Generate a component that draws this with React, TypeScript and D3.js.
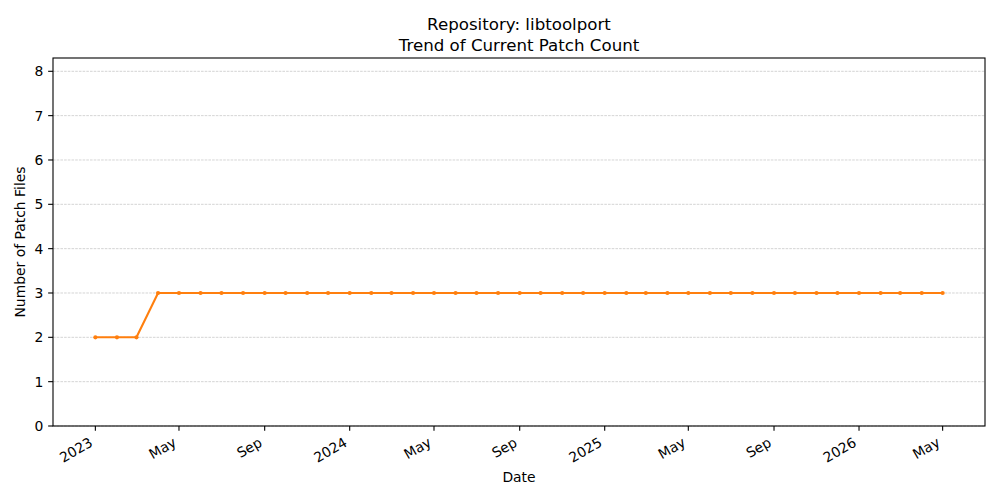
import React from "react";
import * as d3 from "d3";

const months: string[] = [
  "2023-01-01", "2023-02-01", "2023-03-01", "2023-04-01", "2023-05-01", "2023-06-01",
  "2023-07-01", "2023-08-01", "2023-09-01", "2023-10-01", "2023-11-01", "2023-12-01",
  "2024-01-01", "2024-02-01", "2024-03-01", "2024-04-01", "2024-05-01", "2024-06-01",
  "2024-07-01", "2024-08-01", "2024-09-01", "2024-10-01", "2024-11-01", "2024-12-01",
  "2025-01-01", "2025-02-01", "2025-03-01", "2025-04-01", "2025-05-01", "2025-06-01",
  "2025-07-01", "2025-08-01", "2025-09-01", "2025-10-01", "2025-11-01", "2025-12-01",
  "2026-01-01", "2026-02-01", "2026-03-01", "2026-04-01", "2026-05-01",
];

const patchCounts: number[] = [
  2, 2, 2, 3, 3, 3,
  3, 3, 3, 3, 3, 3,
  3, 3, 3, 3, 3, 3,
  3, 3, 3, 3, 3, 3,
  3, 3, 3, 3, 3, 3,
  3, 3, 3, 3, 3, 3,
  3, 3, 3, 3, 3,
];

const xTickDates: string[] = [
  "2023-01-01", "2023-05-01", "2023-09-01",
  "2024-01-01", "2024-05-01", "2024-09-01",
  "2025-01-01", "2025-05-01", "2025-09-01",
  "2026-01-01", "2026-05-01",
];
const xTickLabels: string[] = [
  "2023", "May", "Sep", "2024", "May", "Sep", "2025", "May", "Sep", "2026", "May",
];
const yTicks: number[] = [0, 1, 2, 3, 4, 5, 6, 7, 8];

const titleLines = ["Repository: libtoolport", "Trend of Current Patch Count"];
const xLabel = "Date";
const yLabel = "Number of Patch Files";

const W = 1000;
const H = 500;
const left = 53;
const right = 985;
const top = 58;
const bottom = 426;
const FONT = "DejaVu Sans, sans-serif";
const COLOR = "#ff7f0e";

export default function App() {
  const parse = d3.timeParse("%Y-%m-%d");
  const data = months.map((m, i) => ({ d: parse(m) as Date, v: patchCounts[i] }));
  const [d0, d1] = d3.extent(data, (p) => p.d) as [Date, Date];
  const span = d1.getTime() - d0.getTime();
  const x = d3
    .scaleTime()
    .domain([new Date(d0.getTime() - span * 0.05), new Date(d1.getTime() + span * 0.05)])
    .range([left, right]);
  const y = d3.scaleLinear().domain([0, 8.3]).range([bottom, top]);

  const line = d3
    .line<{ d: Date; v: number }>()
    .x((p) => x(p.d))
    .y((p) => y(p.v));

  const tickLen = 4.86;
  const cx = (left + right) / 2;

  return (
    <svg
      width={W}
      height={H}
      style={{ position: "absolute", left: 0, top: 0, background: "#fff" }}
      fontFamily={FONT}
    >
      <rect x={0} y={0} width={W} height={H} fill="#fff" />
      {/* grid */}
      {yTicks.map((t) => (
        <line
          key={"g" + t}
          x1={left}
          x2={right}
          y1={y(t)}
          y2={y(t)}
          stroke="#b0b0b0"
          strokeWidth={0.55}
          strokeDasharray="2.6,1.1"
        />
      ))}
      {/* line */}
      <path d={line(data) || ""} fill="none" stroke={COLOR} strokeWidth={2.08} strokeLinejoin="round" />
      {data.map((p, i) => (
        <circle key={"m" + i} cx={x(p.d)} cy={y(p.v)} r={2.1} fill={COLOR} />
      ))}
      {/* spines */}
      <rect
        x={left}
        y={top}
        width={right - left}
        height={bottom - top}
        fill="none"
        stroke="#000"
        strokeWidth={1.1}
      />
      {/* y ticks */}
      {yTicks.map((t) => (
        <g key={"yt" + t}>
          <line x1={left - tickLen} x2={left} y1={y(t)} y2={y(t)} stroke="#000" strokeWidth={1.1} />
          <text
            x={left - tickLen - 4.86}
            y={y(t)}
            textAnchor="end"
            dominantBaseline="central"
            fontSize={13.9}
            fill="#000"
          >
            {t}
          </text>
        </g>
      ))}
      {/* x ticks */}
      {xTickDates.map((s, i) => {
        const xp = x(parse(s) as Date);
        return (
          <g key={"xt" + s}>
            <line x1={xp} x2={xp} y1={bottom} y2={bottom + tickLen} stroke="#000" strokeWidth={1.1} />
            <text
              transform={`translate(${xp - 1.6},${bottom + 2 * tickLen + 9.5}) rotate(-30)`}
              textAnchor="end"
              fontSize={13.9}
              fill="#000"
            >
              {xTickLabels[i]}
            </text>
          </g>
        );
      })}
      {/* labels */}
      <text x={cx} y={482} textAnchor="middle" fontSize={13.9} fill="#000">
        {xLabel}
      </text>
      <text
        transform={`translate(25,${(top + bottom) / 2}) rotate(-90)`}
        textAnchor="middle"
        fontSize={13.9}
        fill="#000"
      >
        {yLabel}
      </text>
      {titleLines.map((t, i) => (
        <text key={"t" + i} x={cx} y={30 + i * 20.5} textAnchor="middle" fontSize={16.67} fill="#000">
          {t}
        </text>
      ))}
    </svg>
  );
}
